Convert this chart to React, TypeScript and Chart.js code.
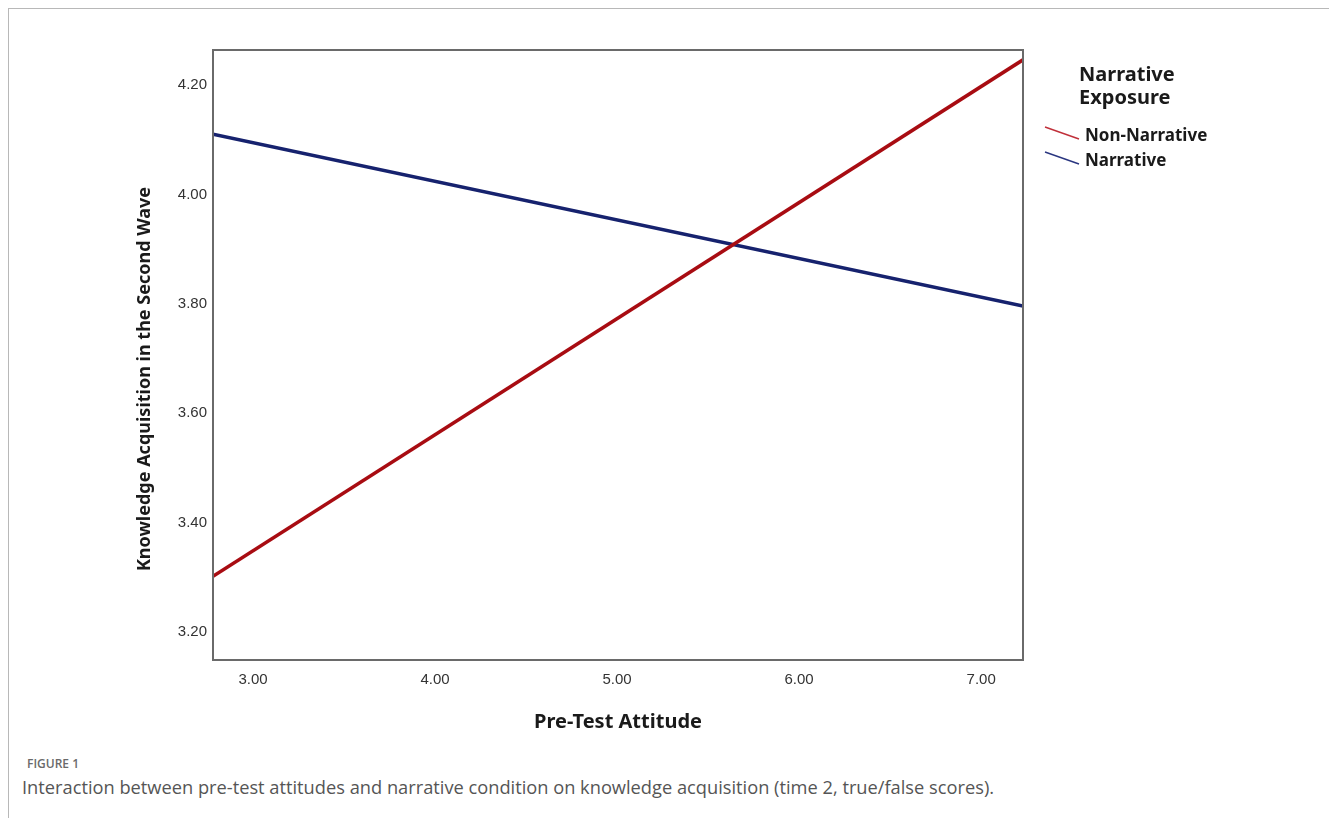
import React, { useEffect, useRef } from "react";
import { Chart, registerables } from "chart.js";

Chart.register(...registerables);

// ---- data ----
const xRange = [2.78, 7.23];
const nonNarrativeValues = [3.302, 4.246];
const narrativeValues = [4.11, 3.796];
const xTicks = [3, 4, 5, 6, 7];
const yTicks = [3.2, 3.4, 3.6, 3.8, 4.0, 4.2];
const seriesNames = ["Non-Narrative", "Narrative"];
const seriesColors = ["#a80c12", "#16226e"];
const legendColors = ["#c0303a", "#2a3680"];
const legendTitleLines = ["Narrative", "Exposure"];
const xTitle = "Pre-Test Attitude";
const yTitle = "Knowledge Acquisition in the Second Wave";
const figureLabel = "FIGURE 1";
const captionText =
  "Interaction between pre-test attitudes and narrative condition on knowledge acquisition (time 2, true/false scores).";

const seriesValues = [nonNarrativeValues, narrativeValues];

const TITLE_FONT = '"Noto Sans", "Open Sans", sans-serif';
const TICK_FONT = '"Liberation Sans", Arial, sans-serif';

const framePlugin = {
  id: "frame",
  afterDatasetsDraw(chart: any) {
    const { ctx, chartArea } = chart;
    ctx.save();
    ctx.strokeStyle = "#6a6a6a";
    ctx.lineWidth = 2;
    ctx.strokeRect(
      chartArea.left,
      chartArea.top,
      chartArea.right - chartArea.left,
      chartArea.bottom - chartArea.top
    );
    ctx.restore();
  },
};

const yTitlePlugin = {
  id: "yTitle",
  afterDraw(chart: any) {
    const { ctx } = chart;
    ctx.save();
    ctx.translate(136, 370);
    ctx.rotate(-Math.PI / 2);
    ctx.font = `bold 18px ${TITLE_FONT}`;
    ctx.fillStyle = "#1a1a1a";
    ctx.textAlign = "center";
    ctx.textBaseline = "middle";
    ctx.fillText(yTitle, 0, 0);
    ctx.restore();
  },
};

const legendPlugin = {
  id: "customLegend",
  afterDraw(chart: any) {
    const { ctx } = chart;
    ctx.save();
    ctx.fillStyle = "#1a1a1a";
    ctx.textAlign = "left";
    ctx.textBaseline = "middle";
    ctx.font = `bold 20px ${TITLE_FONT}`;
    legendTitleLines.forEach((t, i) => ctx.fillText(t, 1070, 66 + i * 23));
    ctx.font = `bold 17px ${TITLE_FONT}`;
    seriesNames.forEach((name, i) => {
      const y = 127 + i * 25;
      ctx.strokeStyle = legendColors[i];
      ctx.lineWidth = 1.4;
      ctx.beginPath();
      ctx.moveTo(1036, y - 9);
      ctx.lineTo(1070, y + 3);
      ctx.stroke();
      ctx.fillText(name, 1076, y);
    });
    ctx.restore();
  },
};

export default function App() {
  const canvasRef = useRef<HTMLCanvasElement | null>(null);

  useEffect(() => {
    if (!canvasRef.current) return;
    const chart = new Chart(canvasRef.current, {
      type: "scatter",
      data: {
        datasets: seriesNames.map((name, i) => ({
          label: name,
          data: xRange.map((x, j) => ({ x, y: seriesValues[i][j] })),
          showLine: true,
          borderColor: seriesColors[i],
          backgroundColor: seriesColors[i],
          borderWidth: 3.6,
          pointRadius: 0,
          fill: false,
        })),
      },
      options: {
        animation: false,
        responsive: false,
        maintainAspectRatio: false,
        layout: { padding: { top: 41, right: 298, bottom: 0, left: 0 } },
        plugins: {
          legend: { display: false },
          tooltip: { enabled: false },
        },
        scales: {
          x: {
            type: "linear",
            min: xRange[0],
            max: xRange[1],
            afterBuildTicks: (s: any) => {
              s.ticks = xTicks.map((v) => ({ value: v }));
            },
            afterFit: (s: any) => {
              s.height = 79;
            },
            grid: { display: false, drawTicks: false },
            border: { display: false },
            ticks: {
              padding: 11,
              autoSkip: false,
              maxRotation: 0,
              color: "#333",
              font: { family: TICK_FONT, size: 15 },
              callback: (v: any) => Number(v).toFixed(2),
            },
            title: {
              display: true,
              text: xTitle,
              color: "#1a1a1a",
              font: { family: TITLE_FONT, size: 20, weight: "bold" },
              padding: { top: 0, bottom: 5 },
            },
          },
          y: {
            type: "linear",
            min: 3.149,
            max: 4.264,
            afterBuildTicks: (s: any) => {
              s.ticks = yTicks.map((v) => ({ value: v }));
            },
            afterFit: (s: any) => {
              s.width = 204;
            },
            grid: { display: false, drawTicks: false },
            border: { display: false },
            ticks: {
              padding: 6,
              autoSkip: false,
              color: "#333",
              font: { family: TICK_FONT, size: 15 },
              callback: (v: any) => Number(v).toFixed(2),
            },
          },
        },
      } as any,
      plugins: [framePlugin, yTitlePlugin, legendPlugin],
    });
    return () => chart.destroy();
  }, []);

  return (
    <div
      style={{
        position: "fixed",
        left: 8,
        top: 8,
        width: 1321,
        height: 810,
        borderTop: "1px solid #b8b8b8",
        borderLeft: "1px solid #b8b8b8",
        background: "#fff",
      }}
    >
      <canvas
        ref={canvasRef}
        width={1312}
        height={730}
        style={{ position: "absolute", left: 0, top: 0, display: "block" }}
      />
      <div
        style={{
          position: "absolute",
          left: 18,
          top: 747,
          fontFamily: '"Open Sans", "Noto Sans", sans-serif',
          fontSize: 12,
          lineHeight: "16px",
          fontWeight: 600,
          color: "#6a6a6a",
        }}
      >
        {figureLabel}
      </div>
      <div
        style={{
          position: "absolute",
          left: 13,
          top: 766,
          fontFamily: '"Open Sans", "Noto Sans", sans-serif',
          fontSize: 18.25,
          lineHeight: "24px",
          color: "#555",
          whiteSpace: "nowrap",
        }}
      >
        {captionText}
      </div>
    </div>
  );
}
